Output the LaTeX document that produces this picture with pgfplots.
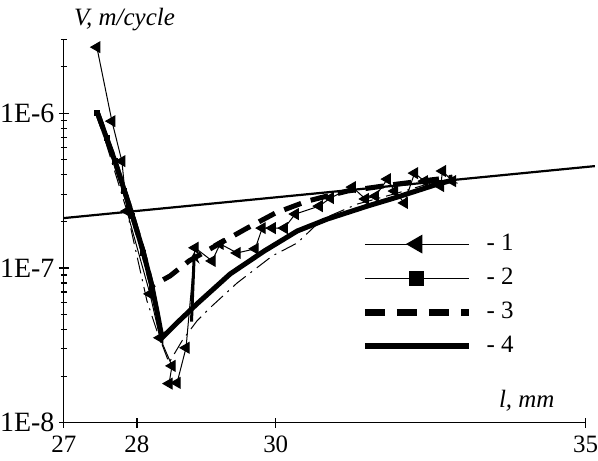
\documentclass[border=0pt]{standalone}
\usepackage{fontspec}
\setmainfont{Liberation Serif}
\usepackage{pgfplots}
\pgfplotsset{compat=1.18}

\begin{document}
\fontsize{12}{14}\selectfont
\begin{tikzpicture}
\begin{axis}[
    scale only axis,
    width=260.5bp, height=191.4bp,
    xmode=log, ymode=log,
    xmin=27, xmax=35, ymin=1e-8, ymax=3e-6,
    axis lines*=left,
    axis line style={line width=0.6bp},
    xtick={27,28,30,35}, xticklabels={27,28,30,35},
    ytick={1e-8,1e-7,1e-6}, yticklabels={1E-8,1E-7,1E-6},
    xminorticks=false,
    minor ytick={2e-8,3e-8,4e-8,5e-8,6e-8,7e-8,8e-8,9e-8,
                 2e-7,3e-7,4e-7,5e-7,6e-7,7e-7,8e-7,9e-7,2e-6,3e-6},
    tick align=center,
    major tick length=5bp, minor tick length=3bp,
    tick style={black, line width=0.6bp},
    ticklabel style={font=\fontsize{12.5}{14}\selectfont, inner xsep=0pt},
    yticklabel style={font=\fontsize{14}{16}\selectfont, xshift=-2bp},
    clip=false,
    legend cell align=left,
    legend style={draw=none, fill=none, at={(rel axis cs:0.558,0.514)}, anchor=north west,
                  row sep=3bp, font=\fontsize{12.5}{14}\selectfont,
                  /tikz/every odd column/.append style={column sep=5bp}},
    legend image code/.code={\draw[mark repeat=2,mark phase=2,#1] plot coordinates {(0bp,0bp) (26bp,0bp) (52bp,0bp)};},
]

% dash-dot thin curve
\addplot[forget plot, black, line width=0.5bp, dash pattern=on 8bp off 3bp on 1bp off 3bp] coordinates {
(27.447,1.0e-6) (27.861,2.33e-7) (28.140,6.13e-8) (28.280,3.92e-8) (28.450,2.44e-8) (28.635,3.38e-8)
(28.849,4.55e-8) (29.067,5.69e-8) (29.431,8.00e-8) (29.949,1.195e-7) (30.324,1.45e-7) (30.704,2.07e-7)
(31.244,2.588e-7) (31.873,3.047e-7) (32.514,3.64e-7) (32.840,3.535e-7)};

% straight reference line
\addplot[forget plot, black, line width=1.1bp] coordinates {(27,2.10e-7) (35.16,4.55e-7)};

% 1
\addplot[forget plot, black, line width=0.5bp, mark=triangle*, mark size=3bp, mark options={rotate=90, solid}] coordinates {
(27.447,2.67e-6) (27.653,8.88e-7) (27.791,4.90e-7) (27.861,2.33e-7) (28.182,6.80e-8) (28.322,3.54e-8)
(28.492,2.33e-8) (28.450,1.79e-8) (28.564,1.81e-8) (28.692,3.05e-8) (28.821,1.35e-7) (29.067,1.11e-7)
(29.183,1.43e-7) (29.431,1.25e-7) (29.696,1.33e-7) (29.800,1.81e-7) (29.949,1.81e-7) (30.128,1.81e-7)
(30.294,2.23e-7) (30.658,2.51e-7) (30.827,2.83e-7) (31.166,3.33e-7) (31.368,2.79e-7) (31.525,2.91e-7)
(31.714,3.75e-7) (31.825,3.14e-7) (31.984,2.63e-7) (32.144,4.10e-7) (32.304,3.64e-7) (32.563,3.38e-7)
(32.596,4.23e-7) (32.758,3.64e-7)};

% 2
\addplot[forget plot, black, line width=0.5bp, mark=square*, mark size=1.2bp] coordinates {
(27.447,1.0e-6) (27.585,6.90e-7) (27.695,4.90e-7) (27.819,3.14e-7) (27.930,2.165e-7) (28.084,1.25e-7)
(28.210,7.43e-8)};

% 3
\addplot[forget plot, black, line width=2.5bp, dash pattern=on 9bp off 5bp] coordinates {
(27.447,1.03e-6) (27.695,4.90e-7) (27.930,2.23e-7) (28.084,1.287e-7) (28.210,7.65e-8) (28.464,8.88e-8)
(28.735,1.11e-7) (29.138,1.408e-7) (29.578,1.81e-7) (29.994,2.263e-7) (30.476,2.706e-7) (31.089,3.14e-7)
(31.873,3.484e-7) (32.514,3.75e-7) (32.758,3.865e-7)};

% 4
\addplot[forget plot, black, line width=2.5bp] coordinates {
(27.447,1.03e-6) (27.695,4.90e-7) (27.930,2.23e-7) (28.084,1.287e-7) (28.210,7.65e-8) (28.280,5.28e-8)
(28.351,3.54e-8) (28.564,4.42e-8) (28.849,5.86e-8) (29.329,9.15e-8) (29.830,1.287e-7) (30.324,1.733e-7)
(30.781,2.071e-7) (31.400,2.51e-7) (31.873,2.871e-7) (32.466,3.432e-7) (32.758,3.696e-7)};

% arrow
\addplot[forget plot, black, line width=1.5bp, -stealth] coordinates {(28.77,4.5e-8) (28.81,1.27e-7)};

\addlegendimage{black, line width=0.5bp, mark=triangle*, mark size=5bp, mark options={rotate=90, solid}}
\addlegendentry{- 1}
\addlegendimage{black, line width=0.5bp, mark=square*, mark size=3.5bp}
\addlegendentry{- 2}
\addlegendimage{black, line width=3.5bp, dash pattern=on 10bp off 6bp}
\addlegendentry{- 3}
\addlegendimage{black, line width=3bp}
\addlegendentry{- 4}

\node[anchor=base west, font=\itshape\fontsize{12.5}{14}\selectfont] at ([xshift=1bp,yshift=7bp]rel axis cs:0,1) {V, m/cycle};
\node[anchor=base west, font=\itshape\fontsize{12.5}{14}\selectfont] at ([yshift=7.5bp]rel axis cs:0.818,0) {l, mm};
\end{axis}
\end{tikzpicture}
\end{document}
